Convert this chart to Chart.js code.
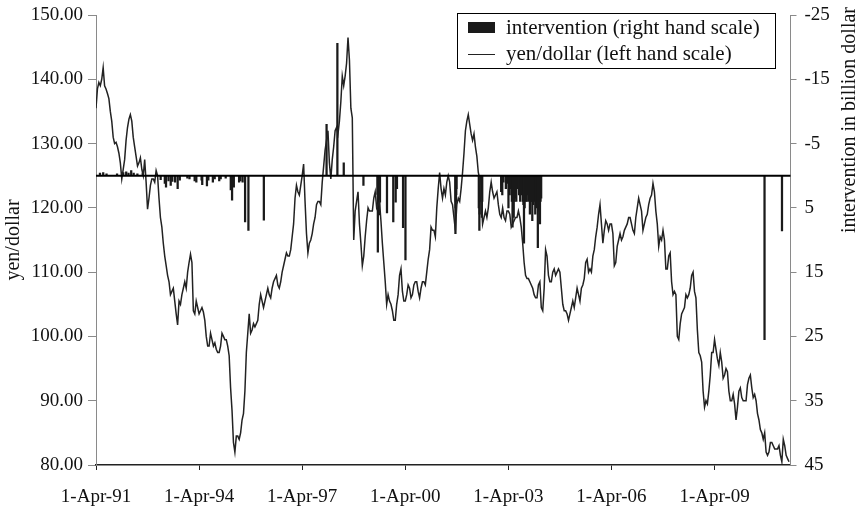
<!DOCTYPE html>
<html>
<head>
<meta charset="utf-8">
<script src="https://cdn.jsdelivr.net/npm/chart.js@4.4.1/dist/chart.umd.min.js"></script>
<style>
html, body { margin: 0; background: #fff; }
#wrap { width: 860px; height: 509px; }
</style>
</head>
<body>
<div id="wrap"><canvas id="grafico"></canvas></div>
<script>
// yen/dollar, two readings per month from 1-Apr-91 (first and second half of each month)
const startYear = 1991.25;
const yenDollar = [
  135.5, 138.5, 139.5, 139, 140, 141.8, 139, 138.5, 137.8, 137, 135, 133.5, 131, 130, 130.2, 129.5, 128.5, 127, // 1991
  124.5, 126, 127.5, 130.5, 132.5, 133.8, 134.5, 133.5, 131, 129.5, 128, 126.5, 127, 127.8, 126, 125, 127.5, 124, 119.8, 121.5, 123.5, 124.5, 124.5, 124, // 1992
  125.8, 125, 121.5, 118.5, 117, 114.5, 112.5, 111, 109.5, 108.5, 106.5, 107, 107.5, 105.5, 103.5, 101.8, 105.5, 105, 106.5, 107.5, 108.5, 107.5, 110, 111.5, // 1993
  112.8, 111.5, 104, 103.5, 105.5, 104.5, 103.5, 104, 104.5, 103.8, 102.5, 100, 98.5, 98.5, 100.5, 99.5, 98.5, 99, 98, 97.5, 97.5, 98.5, 100.5, 100, // 1994
  99.5, 99.5, 98.5, 97, 92, 88.5, 83.5, 82, 84.5, 84.5, 84, 85, 87, 88, 91.5, 97.5, 100.5, 103.5, 100.5, 101, 102, 101.5, 102, 102.5, // 1995
  105, 106.5, 105.5, 104.5, 105.5, 106.5, 107.5, 106.5, 106, 107.5, 108.5, 109, 109.5, 108, 107.5, 108.5, 110, 111, 112, 113, 112.5, 112.5, 113.5, 115.5, // 1996
  117.5, 121.5, 123.5, 122.5, 122, 123.5, 125, 126.8, 121, 116, 113, 114.5, 115, 116, 117.5, 118.5, 120.5, 121, 121, 120.5, 124, 126.5, 129, 130.5, // 1997
  132, 127, 124.5, 127.5, 129.5, 132, 132.5, 131.5, 133.5, 136.5, 140.5, 139, 140.5, 142.5, 146.5, 143, 135.5, 134, 115, 119.5, 121, 122.5, 117.5, 114.5, // 1998
  111, 112.5, 115.5, 118, 120, 119.5, 119.5, 119.5, 121.5, 122.5, 120, 120.5, 121, 118, 114.5, 111.5, 108.5, 105, 106.5, 105.5, 105, 104, 102.5, 102.5, // 1999
  105, 106.5, 109.5, 110.5, 107, 105.5, 105.5, 106.5, 108, 107.5, 106, 106.5, 108, 108.5, 108.5, 107, 106, 107.5, 108.5, 108.5, 108, 110, 112, 113.5, // 2000
  117, 116.5, 116.5, 115.5, 120, 123, 125.5, 123, 121.5, 123, 122, 124, 125, 124, 121, 120.5, 118.5, 116.5, 120.5, 121.5, 121, 123, 125.5, 128.5, // 2001
  132, 133.5, 134.5, 133, 131.5, 130.5, 131.5, 129.5, 128, 125.5, 124.5, 121.5, 117.5, 118.5, 119.5, 118.5, 120, 122.5, 124, 122.5, 121.5, 122, 122.5, 120.5, // 2002
  119, 118.5, 120, 118.5, 118, 119.5, 119.5, 119, 117, 117.5, 118, 118.5, 118.5, 119.5, 118.5, 117, 114.5, 111.5, 109.5, 109, 109, 108.5, 108, 107.5, // 2003
  106.5, 106, 106, 108, 108.5, 104.5, 104, 107.5, 113.5, 112.5, 109.5, 108.5, 108.5, 110, 110.5, 109.5, 110, 110.5, 110, 107.5, 105, 104, 104, 103.5, // 2004
  102.5, 103.5, 104.5, 105.5, 104.5, 106, 107.5, 106.5, 105.5, 107.5, 108, 109, 111.5, 112, 110, 110.5, 110, 112.5, 113.5, 115.5, 117, 119, 120.5, 117.5, // 2005
  114.5, 116.5, 118, 117.5, 116.5, 117.5, 117.5, 116, 111, 111.5, 114, 115, 116, 115, 115.5, 116.5, 117, 117.5, 118.5, 118.5, 117.5, 116.5, 116, 118.5, // 2006
  120, 121.5, 120.5, 119.5, 116.5, 117.5, 118.5, 119, 120.5, 121.5, 122, 123.8, 122.5, 119.5, 117.5, 114, 115.5, 115, 116.5, 115, 110.5, 110.5, 112.5, 113, // 2007
  108.5, 106.5, 107, 106.5, 100, 99.5, 102, 103.5, 104, 104.5, 106.5, 106, 106.5, 107.5, 109.5, 110, 107, 106, 101, 97.5, 97, 96, 91.5, 89, // 2008
  90, 89.5, 91.5, 94, 97.5, 97.5, 99.5, 98, 96.5, 95.5, 97.5, 96, 93.5, 94, 95, 94.5, 91.5, 90, 90, 91, 89.5, 87, 89, 91.5, // 2009
  92, 90.5, 90, 90, 90, 92.5, 93.5, 94, 92, 90.5, 91, 90, 88, 87, 85.5, 85, 84, 85, 82, 81.5, 82, 83.5, 83.5, 83, // 2010
  82.5, 82.5, 82.5, 83, 81.5, 80.5, 84, 83, 81.5, 81, 80.5 // 2011
];

// intervention in billion dollar (positive = yen sales, drawn below the zero line)
const interventionDates = [
  '1991-05-13', '1991-06-17', '1991-07-22', '1991-11-12', '1992-01-17', '1992-02-18', '1992-03-12', '1992-04-10', '1992-05-06', '1992-06-15', '1992-08-11',
  '1993-02-19', '1993-04-02', '1993-04-15', '1993-05-11', '1993-06-04', '1993-06-21', '1993-07-20', '1993-08-17', '1993-09-09', '1993-11-29', '1993-12-21',
  '1994-02-15', '1994-03-02', '1994-04-28', '1994-05-04', '1994-06-24', '1994-07-08', '1994-08-26', '1994-09-15', '1994-11-02', '1994-11-18',
  '1995-01-10', '1995-03-03', '1995-03-17', '1995-04-05', '1995-05-31', '1995-06-14', '1995-07-07', '1995-08-03', '1995-09-08', '1996-02-20',
  '1997-12-17', '1998-04-10', '1998-06-17',
  '1999-01-13', '1999-06-10', '1999-06-14', '1999-06-28', '1999-07-06', '1999-09-20', '1999-11-26', '1999-12-21', '2000-01-04', '2000-03-08', '2000-04-03',
  '2001-09-17', '2001-09-19', '2001-09-21', '2001-09-26', '2001-09-28',
  '2002-05-22', '2002-05-28', '2002-05-31', '2002-06-04', '2002-06-13', '2002-06-24', '2002-06-28',
  '2003-01-16', '2003-01-22', '2003-01-28', '2003-02-10', '2003-03-05', '2003-03-20', '2003-04-02', '2003-04-15', '2003-04-25', '2003-05-08',
  '2003-05-15', '2003-05-20', '2003-05-28', '2003-06-05', '2003-06-16', '2003-06-25', '2003-07-08', '2003-07-24', '2003-08-05', '2003-08-20',
  '2003-09-02', '2003-09-09', '2003-09-15', '2003-09-22', '2003-10-02', '2003-10-14', '2003-10-27', '2003-11-04', '2003-11-17', '2003-11-28',
  '2003-12-04', '2003-12-12', '2003-12-22', '2004-01-07', '2004-01-13', '2004-01-19', '2004-01-27', '2004-02-03', '2004-02-10', '2004-02-17',
  '2004-02-24', '2004-03-02', '2004-03-08', '2004-03-15',
  '2010-09-15', '2011-03-18'
];
const interventionAmounts = [
  -0.4, -0.5, -0.3, -0.3, -0.5, -0.6, -0.4, -0.8, -0.4, -0.3, -0.4,
  0.6, 1.2, 1.8, 0.8, 1.5, 0.9, 1.0, 2.0, 0.7, 0.4, 0.5,
  0.8, 1.0, 0.7, 1.4, 1.6, 0.7, 1.0, 0.5, 0.8, 0.5,
  0.4, 2.2, 3.8, 1.8, 1.0, 0.8, 1.0, 7.2, 8.5, 6.9,
  -8, -20.6, -2.0,
  1.5, 2.9, 11.9, 6.1, 4.1, 5.8, 7.2, 4.1, 2.0, 8.1, 13.1,
  9, 5, 4, 3, 2,
  5, 8.5, 6, 4, 3, 6.5, 4,
  2.5, 1.5, 3, 1.0, 2.0, 1.2, 5, 3, 2, 4,
  8, 4, 6.5, 4, 3.5, 4, 2, 3, 4, 3,
  4, 4.5, 10.5, 5, 4, 4, 3, 4, 6, 4,
  4, 7, 4.5, 4, 6, 4, 5, 4.5, 11.2, 4,
  5.5, 7.5, 4, 3.5,
  25.5, 8.6
];

const xTickValues = [1991.25, 1994.25, 1997.25, 2000.25, 2003.25, 2006.25, 2009.25];
const xTickLabels = ['1-Apr-91', '1-Apr-94', '1-Apr-97', '1-Apr-00', '1-Apr-03', '1-Apr-06', '1-Apr-09'];
const rightTicks = [-25, -15, -5, 5, 15, 25, 35, 45];

function toYear(s) {
    const [y, m, d] = s.split('-').map(Number);
    return y + (m - 1 + (d - 1) / 31) / 12;
}

const corCinza = '#8a8a8a';
const corLinha = '#222222';
const corBarra = '#1a1a1a';

Chart.defaults.font.family = "'Liberation Serif', 'Times New Roman', serif";
Chart.defaults.font.size = 19;
Chart.defaults.color = '#111';

const extras = {
    id: 'extras',
    afterDatasetsDraw(chart) {
        const ctx = chart.ctx;
        const area = chart.chartArea;
        const y0 = chart.scales.y1.getPixelForValue(0);
        ctx.save();
        ctx.strokeStyle = '#000';
        ctx.lineWidth = 2;
        ctx.beginPath();
        ctx.moveTo(area.left, y0);
        ctx.lineTo(area.right, y0);
        ctx.stroke();
        ctx.restore();
    },
    afterDraw(chart) {
        const ctx = chart.ctx;
        ctx.save();
        // right hand axis title, reading bottom to top
        ctx.font = "20px 'Liberation Serif', serif";
        ctx.fillStyle = '#111';
        ctx.translate(850, 7);
        ctx.rotate(-Math.PI / 2);
        ctx.textAlign = 'right';
        ctx.textBaseline = 'middle';
        ctx.fillText('intervention in billion dollar', 0, 0);
        ctx.restore();

        // legend box inside the plot
        const ds = chart.data.datasets;
        ctx.save();
        ctx.fillStyle = '#fff';
        ctx.fillRect(457, 13, 318, 55);
        ctx.strokeStyle = '#000';
        ctx.lineWidth = 1;
        ctx.strokeRect(457.5, 13.5, 318, 55);
        ctx.fillStyle = ds[0].backgroundColor;
        ctx.fillRect(468, 22, 27, 11);
        ctx.strokeStyle = ds[1].borderColor;
        ctx.beginPath();
        ctx.moveTo(468, 54.5);
        ctx.lineTo(495, 54.5);
        ctx.stroke();
        ctx.font = "21px 'Liberation Serif', serif";
        ctx.fillStyle = '#111';
        ctx.textBaseline = 'middle';
        ctx.fillText(ds[0].label, 506, 28);
        ctx.fillText(ds[1].label, 506, 54);
        ctx.restore();
    }
};

// keeps the top of the plot where the reference has it
function fixTop(scale) {
    scale.paddingTop = 15;
}

const ctx = document.getElementById('grafico').getContext('2d');
window.meuGrafico = new Chart(ctx, {
    type: 'bar',
    data: {
        datasets: [
            {
                type: 'bar',
                label: 'intervention (right hand scale)',
                data: interventionDates.map((d, i) => ({ x: toYear(d), y: interventionAmounts[i] })),
                yAxisID: 'y1',
                backgroundColor: corBarra,
                barThickness: 1.6,
                grouped: false,
                order: 2
            },
            {
                type: 'line',
                label: 'yen/dollar (left hand scale)',
                data: yenDollar.map((v, i) => ({ x: startYear + i / 24, y: v })),
                yAxisID: 'y',
                borderColor: corLinha,
                borderWidth: 1.5,
                pointRadius: 0,
                tension: 0,
                order: 1
            }
        ]
    },
    options: {
        responsive: true,
        maintainAspectRatio: false,
        animation: false,
        layout: { padding: 0 },
        plugins: {
            legend: { display: false },
            tooltip: { enabled: false }
        },
        scales: {
            x: {
                type: 'linear',
                offset: false,
                min: 1991.25,
                max: 2011.46,
                afterBuildTicks: function(scale) {
                    scale.ticks = xTickValues.map(v => ({ value: v }));
                },
                afterFit: function(scale) { scale.height = 44; },
                ticks: {
                    autoSkip: false,
                    maxRotation: 0,
                    padding: 16,
                    callback: function(value, index) { return xTickLabels[index]; }
                },
                grid: { drawOnChartArea: false, offset: false, tickLength: 5, color: '#222' },
                border: { color: '#222', width: 1.5 }
            },
            y: {
                position: 'left',
                min: 80,
                max: 150,
                afterFit: function(scale) { scale.width = 96; fixTop(scale); },
                ticks: {
                    stepSize: 10,
                    padding: 5,
                    callback: function(value) { return value.toFixed(2); }
                },
                grid: { drawOnChartArea: false, tickLength: 8, color: corCinza },
                border: { color: corCinza },
                title: {
                    display: true,
                    text: 'yen/dollar',
                    font: { size: 20 },
                    padding: { top: 2, bottom: 0 }
                }
            },
            y1: {
                position: 'right',
                reverse: true,
                min: -25,
                max: 45,
                afterBuildTicks: function(scale) {
                    scale.ticks = rightTicks.map(v => ({ value: v }));
                },
                afterFit: function(scale) { scale.width = 69.5; fixTop(scale); },
                ticks: {
                    padding: 8,
                    callback: function(value) { return String(value); }
                },
                grid: { drawOnChartArea: false, tickLength: 6, color: corCinza },
                border: { color: corCinza }
            }
        }
    },
    plugins: [extras]
});
</script>
</body>
</html>
